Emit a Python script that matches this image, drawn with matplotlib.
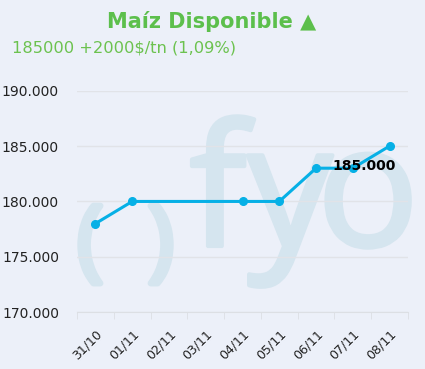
import numpy as np
import matplotlib
matplotlib.use('Agg')
import matplotlib.pyplot as plt
import matplotlib.patheffects as pe
from matplotlib.ticker import FuncFormatter, FixedLocator

# Datos (precio disponible, $/tn)
fechas = ['31/10', '01/11', '02/11', '03/11', '04/11', '05/11', '06/11', '07/11', '08/11']
precios = [178000, 180000, None, None, 180000, 180000, 183000, 183000, 185000]
titulo = 'Maíz Disponible ▲'
subtitulo = '185000 +2000$/tn (1,09%)'
etiqueta_ultimo = '185.000'

fondo = '#ecf0f9'
verde = '#5cbf4c'
azul = '#06b0e6'
marca_agua = '#d5e5ef'

fig = plt.figure(figsize=(4.25, 3.69), dpi=100, facecolor=fondo)

# watermark "( ) fyo" behind the chart (thickened with a stroke)
W, H = 425.0, 369.0
for ch, x in [('(', 90), (')', 161)]:
    fig.text(x / W, 1 - 246 / H, ch, fontsize=64, family='Open Sans',
             color=marca_agua, ha='center', va='center', zorder=-1,
             path_effects=[pe.withStroke(linewidth=4.5, foreground=marca_agua)])
for ch, x in [('f', 218), ('y', 290), ('o', 368)]:
    fig.text(x / W, 1 - 246 / H, ch, fontsize=122, family='Open Sans',
             color=marca_agua, ha='center', va='baseline', zorder=-1,
             path_effects=[pe.withStroke(linewidth=3, foreground=marca_agua)])

ax = fig.add_axes([77 / W, 1 - 312.3 / H, 331 / W, (312.3 - 90.6) / H])
ax.set_facecolor('none')
ax.set_zorder(1)

x = np.arange(len(fechas))
validos = [(i, p) for i, p in zip(x, precios) if p is not None]
xs = [v[0] for v in validos]
ys = [v[1] for v in validos]
ax.plot(xs, ys, color=azul, lw=2.2, marker='o', ms=5.5, zorder=3)

ax.annotate(etiqueta_ultimo, (xs[-1], ys[-1]), xytext=(-18, -14.2), textcoords='offset points',
            ha='center', va='center', fontsize=10, fontweight='bold', color='black', zorder=4)

ax.set_xlim(-0.5, len(fechas) - 0.5)
ax.set_ylim(170000, 190000)
ax.set_yticks(np.arange(170000, 190001, 5000))
ax.yaxis.set_major_formatter(FuncFormatter(lambda v, p: f'{v:,.0f}'.replace(',', '.')))
ax.grid(axis='y', color='#e1e3e8', lw=1)
ax.set_axisbelow(True)

ax.set_xticks(x)
ax.set_xticklabels(fechas, rotation=45, ha='right', rotation_mode='anchor', fontsize=9)
ax.xaxis.set_minor_locator(FixedLocator(np.arange(-0.5, len(fechas), 1)))
ax.tick_params(axis='x', which='major', length=0, pad=11, colors='#222222')
ax.tick_params(axis='x', which='minor', length=5, color='#dcdfe4')
ax.tick_params(axis='y', length=0, pad=13, labelsize=10, colors='#222222')

for s in ['top', 'right', 'left']:
    ax.spines[s].set_visible(False)
ax.spines['bottom'].set_color('#dcdfe4')

fig.text(212 / W, 1 - 22 / H, titulo, fontsize=15, fontweight='bold', color=verde,
         ha='center', va='center')
fig.text(12 / W, 1 - 48 / H, subtitulo, fontsize=11.7, color='#6cc24f', ha='left', va='center')

fig.savefig('out.png', dpi=100, facecolor=fondo)
